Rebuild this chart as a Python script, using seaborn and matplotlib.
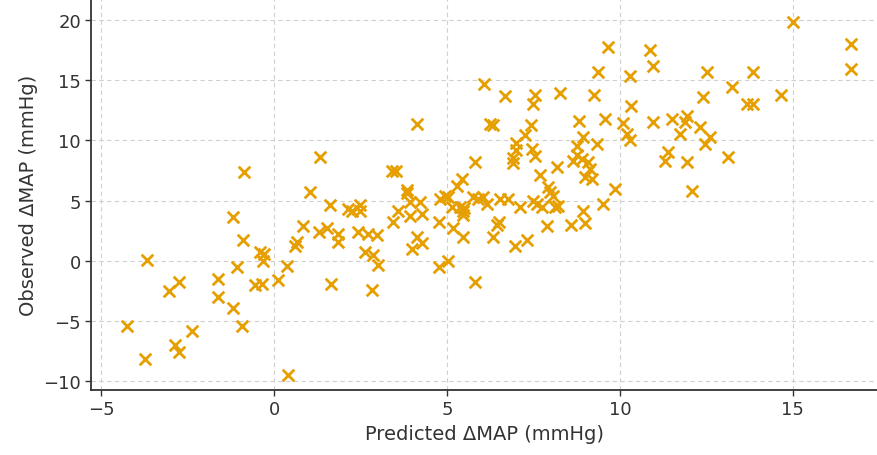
import numpy as np
import pandas as pd
import matplotlib
matplotlib.use("Agg")
import matplotlib.pyplot as plt
import seaborn as sns

# ================================
# Data
# ================================

predicted = [
    -4.25, -3.73, -3.67, -3.03, -2.86, -2.75, -2.75, -2.37, -1.62, -1.62,
    -1.18, -1.18, -1.07, -0.92, -0.87, -0.90, -0.55, -0.35, -0.40, -0.30,
    -0.32, 0.12, 0.38, 0.40, 0.61, 0.66, 0.84, 1.04, 1.33, 1.30,
    1.53, 1.62, 1.65, 1.85, 1.85, 2.14, 2.25, 2.49, 2.49, 2.43,
    2.72, 2.98, 2.63, 2.86, 3.00, 2.83, 3.41, 3.53, 3.44, 3.58,
    3.84, 3.84, 3.93, 4.22, 3.93, 4.28, 4.13, 3.99, 4.28, 4.13,
    4.77, 5.03, 4.77, 4.80, 4.94, 5.03, 5.14, 5.37, 5.46, 5.50,
    5.46, 5.46, 5.17, 5.81, 5.29, 5.43, 5.81, 5.75, 5.90, 6.04,
    6.16, 6.53, 6.76, 6.50, 6.45, 6.33, 6.07, 6.24, 6.32, 6.68,
    6.90, 6.90, 7.00, 7.00, 6.97, 7.11, 7.25, 7.31, 7.43, 7.46,
    7.55, 7.49, 7.60, 7.75, 7.55, 7.49, 7.69, 7.89, 7.92, 7.98,
    8.06, 8.12, 8.21, 8.18, 8.27, 8.58, 8.64, 8.76, 8.76, 8.82,
    8.93, 8.90, 8.93, 8.99, 8.99, 9.07, 9.13, 9.19, 9.25, 9.33,
    9.36, 9.51, 9.57, 9.65, 9.86, 10.09, 10.20, 10.29, 10.29, 10.32,
    10.87, 10.95, 10.95, 11.30, 11.40, 11.50, 11.73, 11.94, 11.88, 11.94,
    12.08, 12.31, 12.40, 12.51, 12.46, 12.60, 13.12, 13.24, 13.67, 13.84,
    13.84, 14.65, 15.00, 16.68, 16.68,
]

observed = [
    -5.40, -8.20, 0.10, -2.55, -7.00, -7.60, -1.80, -5.85, -3.00, -1.50,
    3.65, -3.90, -0.55, -5.40, 7.40, 1.70, -2.05, -1.90, 0.75, 0.60,
    0.00, -1.60, -0.40, -9.45, 1.20, 1.60, 2.90, 5.75, 8.65, 2.40,
    2.75, 4.65, -1.90, 2.25, 1.60, 4.30, 4.15, 4.65, 4.15, 2.40,
    2.25, 2.10, 0.75, 0.50, -0.35, -2.45, 7.50, 7.45, 3.25, 4.15,
    5.90, 5.60, 4.90, 4.90, 3.70, 3.90, 2.00, 1.00, 1.45, 11.40,
    -0.50, 0.00, 3.25, 5.15, 5.40, 5.30, 4.50, 4.50, 4.15, 4.35,
    3.80, 2.00, 2.70, -1.75, 6.25, 6.80, 8.20, 5.30, 5.10, 5.30,
    4.75, 5.15, 5.15, 3.25, 2.95, 2.00, 14.70, 11.35, 11.25, 13.65,
    8.50, 8.10, 9.80, 9.20, 1.20, 4.50, 10.45, 1.70, 11.25, 9.30,
    8.70, 5.00, 4.75, 4.50, 13.75, 13.05, 7.10, 2.85, 6.15, 5.70,
    5.40, 4.50, 4.55, 7.80, 13.90, 2.95, 8.30, 9.55, 8.75, 11.65,
    10.30, 8.45, 4.10, 3.10, 6.95, 8.20, 7.60, 6.80, 13.75, 9.70,
    15.70, 4.75, 11.80, 17.75, 5.95, 11.45, 10.55, 10.00, 15.35, 12.85,
    17.50, 16.20, 11.50, 8.30, 9.05, 11.80, 10.50, 12.00, 11.50, 8.20,
    5.80, 11.10, 13.60, 15.70, 9.70, 10.30, 8.65, 14.45, 13.00, 13.00,
    15.70, 13.75, 19.85, 18.00, 15.95,
]

x_ticks = [-5, 0, 5, 10, 15]
y_ticks = [-10, -5, 0, 5, 10, 15, 20]

df = pd.DataFrame({"predicted": predicted, "observed": observed})

# ================================
# Plot
# ================================

sns.set_style("white")
plt.rcParams['font.family'] = ['DejaVu Sans']

fig = plt.figure(figsize=(8.78, 4.56), dpi=100)
ax = fig.add_axes([0.104, 0.143, 0.896, 0.857])

sns.scatterplot(data=df, x="predicted", y="observed", marker="x",
                s=70, color="#E69F00", linewidth=2.0, ax=ax, zorder=3)

ax.set_xlim(-5.29, 17.46)
ax.set_ylim(-10.72, 21.75)
ax.set_xticks(x_ticks)
ax.set_yticks(y_ticks)

ax.grid(True, linestyle=(0, (4, 3)), color="#d0d0d0", linewidth=0.8)
ax.set_axisbelow(True)

for side in ["top", "right"]:
    ax.spines[side].set_visible(False)
for side in ["left", "bottom"]:
    ax.spines[side].set_color("#333333")
    ax.spines[side].set_linewidth(1.3)

ax.tick_params(axis="both", which="both", direction="out", length=4,
               width=1.0, color="#333333", labelsize=13, labelcolor="#333333",
               bottom=True, left=True)

ax.set_xlabel("Predicted ΔMAP (mmHg)", fontsize=14, color="#333333")
ax.set_ylabel("Observed ΔMAP (mmHg)", fontsize=14, color="#333333")

fig.savefig("out.png", dpi=100)
